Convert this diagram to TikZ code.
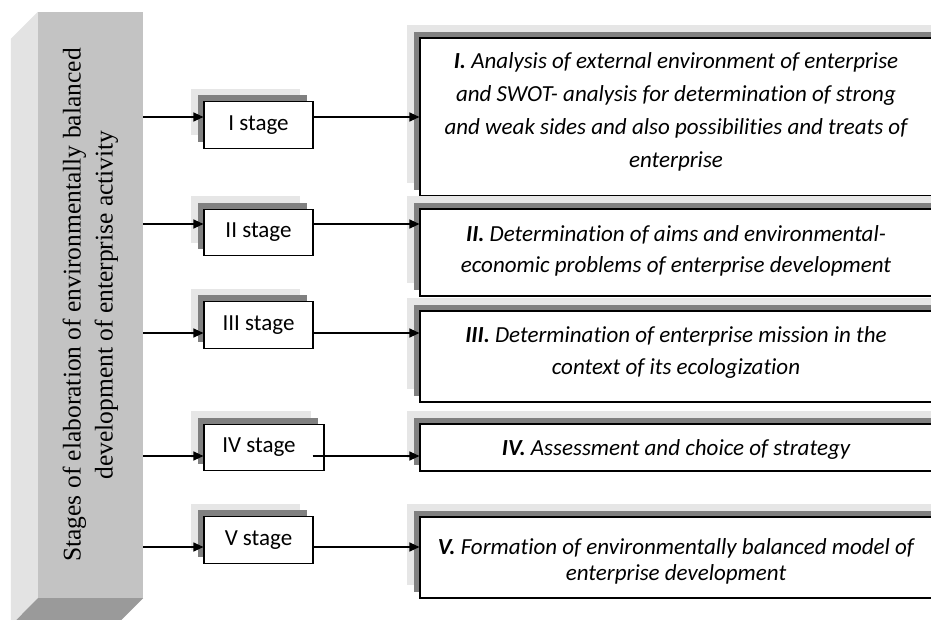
\documentclass[tikz,border=0pt]{standalone}
\usepackage{fontspec}
\setmainfont{Carlito}[Ligatures={NoCommon}]
\newfontfamily\timesf{Liberation Serif}
\usetikzlibrary{arrows.meta,calc,shadows}
\definecolor{shlight}{HTML}{E6E6E6}
\definecolor{shdark}{HTML}{808080}
\definecolor{colfront}{HTML}{C3C3C3}
\definecolor{colside}{HTML}{E3E3E3}
\definecolor{colbottom}{HTML}{9A9A9A}
\begin{document}
\begin{tikzpicture}[x=1pt,y=-1pt,
  box/.style={draw=black, line width=1.1pt, fill=white, inner sep=0pt,
    general shadow={fill=shlight, draw=none, shadow xshift=-13pt, shadow yshift=13pt},
    general shadow={fill=shdark, draw=none, shadow xshift=-6.5pt, shadow yshift=6.5pt}},
  stagebox/.style={box, minimum width=109pt, minimum height=46.5pt,
    font=\fontsize{23}{27}\selectfont},
  resbox/.style={box, minimum width=525pt},
  restext/.style={align=center, inner sep=0pt,
    font=\fontsize{23}{33}\selectfont\itshape},
  arr/.style={line width=1.1pt, -{Triangle[length=10pt,width=9pt]}},
  colface/.style={fill=colfront, draw=none, minimum width=105pt, minimum height=586pt, inner sep=0pt},
  coltext/.style={rotate=90, align=center, inner sep=0pt,
    font=\timesf\fontsize{25.5}{32}\selectfont},
]
\useasboundingbox (0,0) rectangle (931,619);
\clip (0,0) rectangle (931,619);

% left 3D column
\node[colface] (col) at (90.5,305) {};
\fill[colside] (col.north west) -- ++(-27,27) -- ++(0,620) -- (col.south west) -- cycle;
\fill[colbottom] (col.south west) -- (col.south east) -- ++(-27,27) -- ++(-105,0) -- cycle;
\node[coltext] (ct) at (col.center) {Stages of elaboration of environmentally balanced\\development of enterprise activity};

% stage boxes
\node[stagebox] (s1) at (258.5,125) {I stage};
\node[stagebox] (s2) at (258.5,232.5) {II stage};
\node[stagebox] (s3) at (258.5,325) {III stage};
\node[stagebox, minimum width=120pt] (s4) at (264,447.5) {IV stage\hspace*{10pt}};
\node[stagebox] (s5) at (258.5,540) {V stage};

% result boxes
\node[resbox, minimum height=158pt] (r1) at (682.5,117) {};
\node[resbox, minimum height=87pt] (r2) at (682.5,252.5) {};
\node[resbox, minimum height=91pt] (r3) at (682.5,356.5) {};
\node[resbox, minimum height=47pt] (r4) at (682.5,447.5) {};
\node[resbox, minimum height=81pt] (r5) at (682.5,557.5) {};

\node[restext] (t1) at (676,111.5) {\textbf{I.} Analysis of external environment of enterprise\\and SWOT- analysis for determination of strong\\and weak sides and also possibilities and treats of\\enterprise};
\node[restext, font=\fontsize{23}{31}\selectfont\itshape] (t2) at (676,250.5) {\textbf{II.} Determination of aims and environmental-\\economic problems of enterprise development};
\node[restext, font=\fontsize{23}{32}\selectfont\itshape] (t3) at (676,352) {\textbf{III.} Determination of enterprise mission in the\\context of its ecologization};
\node[restext] (t4) at (676,449) {\textbf{IV.} Assessment and choice of strategy};
\node[restext, font=\fontsize{23}{26}\selectfont\itshape] (t5) at (676,561.5) {\textbf{V.} Formation of environmentally balanced model of\\enterprise development};

% connectors
\coordinate (a1) at (143,117);
\coordinate (a2) at (143,224);
\coordinate (a3) at (143,333);
\coordinate (a4) at (143,456);
\coordinate (a5) at (143,547);
\draw[arr] (a1) -- (a1 -| s1.west);
\draw[arr] (a2) -- (a2 -| s2.west);
\draw[arr] (a3) -- (a3 -| s3.west);
\draw[arr] (a4) -- (a4 -| s4.west);
\draw[arr] (a5) -- (a5 -| s5.west);
\draw[arr] (a1 -| s1.east) -- (a1 -| r1.west);
\draw[arr] (a2 -| s2.east) -- (a2 -| r2.west);
\draw[arr] (a3 -| s3.east) -- (a3 -| r3.west);
\draw[arr] ($(a4 -| s4.east)+(-12,0)$) -- (a4 -| r4.west);
\draw[arr] (a5 -| s5.east) -- (a5 -| r5.west);
\end{tikzpicture}
\end{document}
